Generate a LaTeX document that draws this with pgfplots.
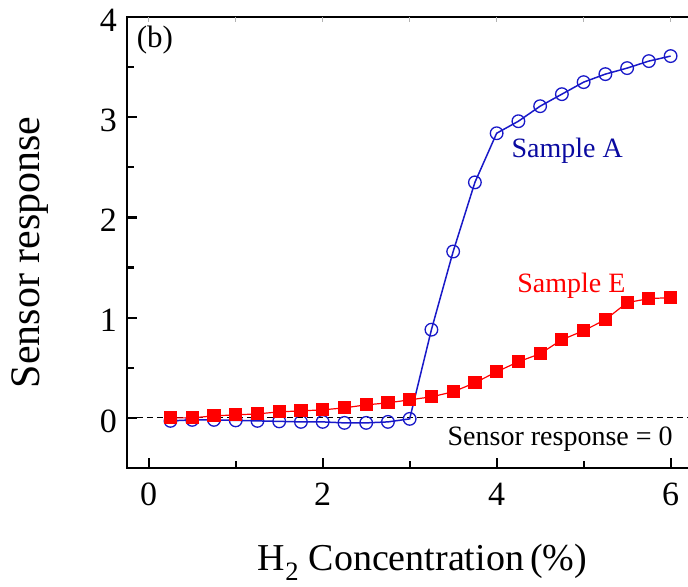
\documentclass[border=0pt]{standalone}
\usepackage{fontspec}
\setmainfont{Liberation Serif}
\usepackage{pgfplots}
\pgfplotsset{compat=1.18}
\definecolor{cblue}{RGB}{25,25,200}
\definecolor{tblue}{RGB}{10,10,160}
\definecolor{cred}{RGB}{255,0,0}
\begin{document}
\begin{tikzpicture}
\begin{axis}[
  name=ax,
  scale only axis,
  width=561pt, height=451pt,
  xmin=-0.25, xmax=6.2,
  ymin=-0.5, ymax=4,
  axis x line*=bottom, axis y line*=left,
  x axis line style={-, line width=2.5pt},
  y axis line style={-, line width=2.5pt},
  xtick={0,2,4,6}, ytick={0,1,2,3,4},
  tick align=inside,
  major tick length=0pt,
  tick style={draw=none},
  /pgf/number format/assume math mode=true,
  ticklabel style={font=\fontsize{34}{38}\selectfont},
  xticklabel style={anchor=north, inner sep=0pt, yshift=-15pt},
  yticklabel style={anchor=east, inner sep=0pt, xshift=-10pt, yshift=-3pt},
  xlabel={H\textsubscript{2} Concentration\,(\%)},
  ylabel={Sensor response},
  xlabel style={font=\fontsize{38}{42}\selectfont, at={(axis description cs:0.527,0)}, anchor=base, yshift=-103pt},
  ylabel style={font=\fontsize{42}{46}\selectfont, at={(axis description cs:-0.172,0.478)}, anchor=center},
]
\addplot[black, dashed, line width=1.2pt, dash pattern=on 6pt off 4pt, forget plot] coordinates {(-0.25,0) (6.2,0)};
\addplot[cblue, line width=1.5pt, mark=o, mark size=6.3pt, mark options={line width=1.3pt, fill=white, solid}] coordinates {
(0.25,-0.03) (0.5,-0.02) (0.75,-0.02) (1.0,-0.025) (1.25,-0.03) (1.5,-0.035)
(1.75,-0.04) (2.0,-0.04) (2.25,-0.05) (2.5,-0.05) (2.75,-0.04) (3.0,-0.01)
(3.25,0.88) (3.5,1.66) (3.75,2.35) (4.0,2.84) (4.25,2.96) (4.5,3.11)
(4.75,3.23) (5.0,3.35) (5.25,3.43) (5.5,3.49) (5.75,3.56) (6.0,3.61)};
\addplot[cred, line width=1.2pt, mark=square*, mark size=6pt, mark options={fill=cred, draw=cred, solid}] coordinates {
(0.25,0.0) (0.5,0.0) (0.75,0.02) (1.0,0.03) (1.25,0.04) (1.5,0.06)
(1.75,0.07) (2.0,0.08) (2.25,0.10) (2.5,0.13) (2.75,0.15) (3.0,0.18)
(3.25,0.21) (3.5,0.26) (3.75,0.35) (4.0,0.46) (4.25,0.56) (4.5,0.64)
(4.75,0.78) (5.0,0.87) (5.25,0.98) (5.5,1.15) (5.75,1.19) (6.0,1.20)};
\node[text=tblue, font=\fontsize{28}{32}\selectfont] at (axis cs:4.81,2.67) {Sample A};
\node[text=cred, font=\fontsize{28}{32}\selectfont] at (axis cs:4.86,1.32) {Sample E};
\node[font=\fontsize{28}{32}\selectfont] at (axis cs:4.73,-0.21) {Sensor response = 0};
\node[font=\fontsize{31}{35}\selectfont, anchor=west, inner sep=0pt] at (axis cs:-0.14,3.77) {(b)};
\end{axis}
\draw[line width=2.5pt, line cap=rect] (ax.south west) -- (ax.north west) -- (ax.north east);
% ticks (x unit = 561/6.45 pt, y unit = 451/4.5 pt)
\foreach \v in {0,2,4,6} \draw[line width=2.2pt] ([xshift={(\v+0.25)*86.977pt}]ax.south west) -- ++(0,10pt);
\foreach \v in {1,3,5} \draw[line width=2.2pt] ([xshift={(\v+0.25)*86.977pt}]ax.south west) -- ++(0,7pt);
\foreach \v in {0,1,2,3,4,5,6} \draw[line width=1pt, gray!60] ([xshift={(\v+0.25)*86.977pt}]ax.north west) -- ++(0,-5pt);
\foreach \v in {0,1,2,3} \draw[line width=2.2pt] ([yshift={(\v+0.5)*100.222pt}]ax.south west) -- ++(10pt,0);
\foreach \v in {0,1,2,3} \draw[line width=2.2pt] ([yshift={(\v)*100.222pt}]ax.south west) -- ++(7pt,0);
\foreach \v in {3.5} \draw[line width=2.2pt] ([yshift={(\v+0.5)*100.222pt}]ax.south west) -- ++(7pt,0);
\pgfresetboundingbox
\path[use as bounding box] ([shift={(-127pt,-119pt)}]ax.south west) rectangle ([shift={(0pt,17pt)}]ax.north east);
\end{tikzpicture}
\end{document}
